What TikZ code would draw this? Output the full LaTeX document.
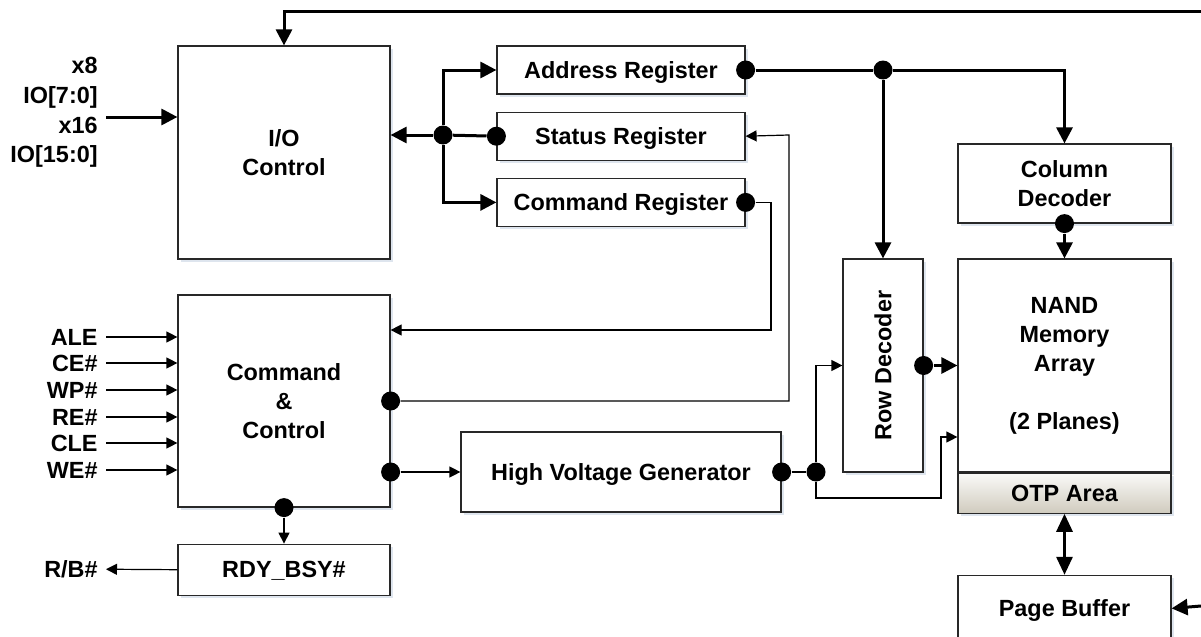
\documentclass[tikz,border=0pt]{standalone}
\usepackage{fontspec}
\setmainfont{Liberation Sans}
\usetikzlibrary{positioning,arrows.meta,shadows}
\definecolor{edge}{RGB}{40,40,40}
\definecolor{shade}{RGB}{222,229,238}
\definecolor{otptop}{RGB}{250,250,248}
\definecolor{otpbot}{RGB}{208,203,190}

\begin{document}
\begin{tikzpicture}[x=0.5pt,y=-0.5pt,node distance=8.5pt,
  font=\fontsize{11.7}{14.5}\selectfont\bfseries,
  blk/.style={draw=edge,line width=0.6pt,fill=white,inner sep=0pt,align=center,
    drop shadow={shadow xshift=1.5pt,shadow yshift=-1.5pt,fill=shade,opacity=1}},
  one/.style={text depth=0pt},
  dot/.style={circle,fill=black,inner sep=0pt,minimum size=9.5pt},
  lbl/.style={inner sep=0pt,inner xsep=4pt,align=right,anchor=east},
  sigline/.style={line width=0.6pt},
  sigarrow/.style={line width=0.6pt,-{Triangle[length=5.5pt,width=5.5pt]}},
  busline/.style={line width=1.5pt},
  busarrow/.style={line width=1.5pt,-{Triangle[length=8pt,width=8pt]}},
  busboth/.style={line width=1.5pt,{Triangle[length=9pt,width=8pt]}-{Triangle[length=9pt,width=8pt]}}]
\useasboundingbox (0,0) rectangle (1201,637);

\node[blk,minimum width=106pt,minimum height=106.5pt] (io) at (284,152.5) {I/O\\Control};
\node[blk,one,minimum width=124pt,minimum height=24pt] (ar) at (621,70) {Address Register};
\node[blk,one,minimum width=124pt,minimum height=24pt] (sr) [below=of ar] {Status Register};
\node[blk,one,minimum width=124pt,minimum height=24pt] (cr) [below=of sr] {Command Register};
\node[blk,minimum width=106.5pt,minimum height=39.5pt] (cd) at (1064.5,183.5) {Column\\Decoder};
\node[blk,minimum width=40pt,minimum height=106.5pt] (rd) at (883,365.5) {\rotatebox{90}{Row Decoder}};
\node[blk,minimum width=106.5pt,minimum height=106.5pt] (nand) at (1064.5,365.5) {NAND\\Memory\\Array\\[14.5pt](2 Planes)};
\node[blk,one,minimum width=106.5pt,minimum height=20pt,top color=otptop,bottom color=otpbot] (otp) [below=0pt of nand] {OTP Area};
\node[blk,one,minimum width=106.5pt,minimum height=33pt] (pb) [below=30.5pt of otp] {Page Buffer};
\node[blk,minimum width=106pt,minimum height=106pt] (cc) at (284,401) {Command\\\&\\Control};
\node[blk,one,minimum width=160pt,minimum height=40pt] (hvg) at (621,472) {High Voltage Generator};
\node[blk,one,minimum width=106pt,minimum height=25.5pt] (rdy) [below=18pt of cc] {RDY\_BSY\#};

\node[lbl,font=\fontsize{11.7}{14.85}\selectfont\bfseries] (iolbl) at (106,112.5) {x8\\IO[7:0]\\x16\\IO[15:0]};
\foreach \sig/\yy in {ALE/337,CE\#/363,WP\#/390,RE\#/417,CLE/443,WE\#/470}{
  \node[lbl,one] (s\yy) at (106,\yy) {\sig};
  \draw[sigarrow] (s\yy) -- (s\yy -| cc.west);
}
\node[lbl,one] (rb) at (106,569) {R/B\#};

\coordinate (fbIn) at (1201,11);
\coordinate (ioIn) at (106,117);
\coordinate (pbIn) at (1201,606);
\draw[busarrow] (fbIn) -| (io.north);
\draw[busarrow] (ioIn) -- (ioIn -| io.west);
\draw[busarrow] (pbIn) -- (pb.east);

\node[dot] (bus) at (443,135) {};
\node[dot] (srL) at (sr.west) {};
\draw[busarrow] (bus) -- (bus -| io.east);
\draw[busline] (bus) -- (srL);
\draw[busarrow] (bus) |- (ar.west);
\draw[busarrow] (bus) |- (cr.west);

\node[dot] (arR) at (ar.east) {};
\node[dot] (adj) at (883,70) {};
\draw[busline] (arR) -- (adj);
\draw[busarrow] (adj) -| (cd.north);
\draw[busarrow] (adj) -- (rd.north);

\node[dot] (cdB) at (cd.south) {};
\draw[busarrow] (cdB) -- (nand.north);
\node[dot] (rdR) at (rd.east) {};
\draw[busarrow] (rdR) -- (rdR -| nand.west);
\draw[busboth] (otp.south) -- (pb.north);

\node[dot] (crR) at (cr.east) {};
\draw[sigarrow] (crR) -| (771,330) -- (cc.east |- 0,330);
\node[dot] (ccS) at (cc.east |- 0,401) {};
\draw[sigarrow] (ccS) -| (789,135) -- (sr.east);
\node[dot] (ccH) at (cc.east |- 0,472) {};
\draw[sigarrow] (ccH) -- (hvg.west);

\node[dot] (hvR) at (hvg.east) {};
\node[dot] (hvJ) at (816,472) {};
\draw[sigline] (hvR) -- (hvJ);
\draw[sigarrow] (hvJ) |- (rd.west);
\draw[sigarrow] (hvJ) -- (816,498) -| (941,437) -- (nand.west |- 0,437);

\node[dot] (ccB) at (cc.south) {};
\draw[sigarrow] (ccB) -- (rdy.north);
\draw[sigarrow] (rdy.west) -- (rb);
\end{tikzpicture}
\end{document}
